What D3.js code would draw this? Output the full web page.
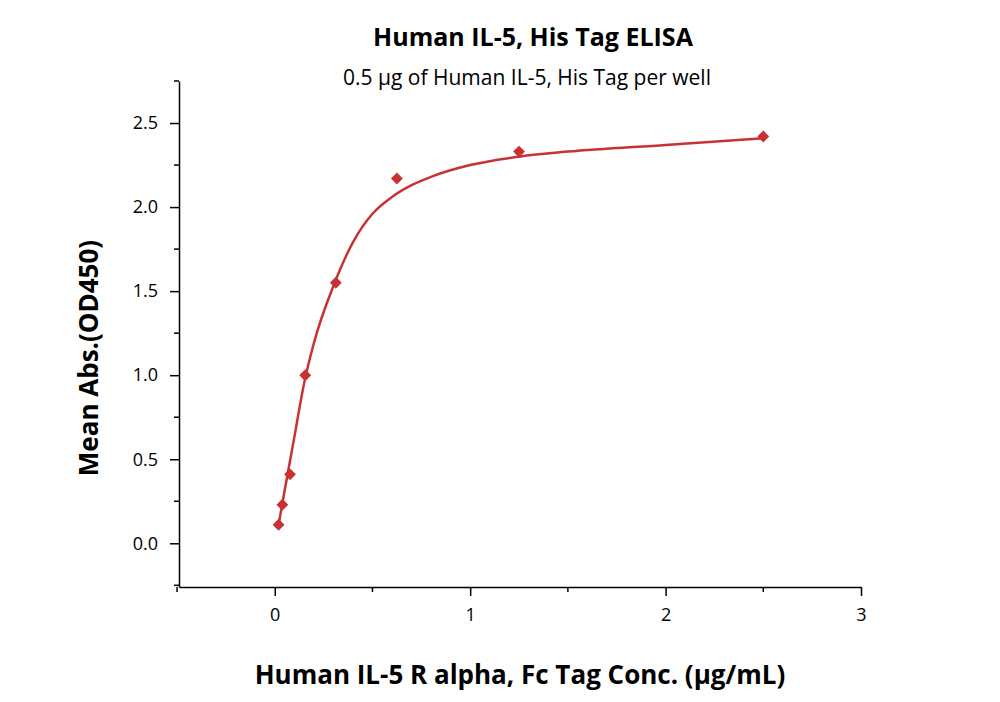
<!DOCTYPE html>
<html><head><meta charset="utf-8">
<script src="https://cdn.jsdelivr.net/npm/d3@7"></script>
<style>body{margin:0;background:#fff;font-family:"Open Sans","Noto Sans",sans-serif}</style>
</head><body><div id="chart"></div>
<script>
// measured points
const conc = [0.0195, 0.039, 0.078, 0.156, 0.3125, 0.625, 1.25, 2.5]
const absMean = [0.11, 0.23, 0.41, 1.00, 1.55, 2.17, 2.33, 2.42]
// fitted curve
const fitX = [0.0195, 0.05, 0.1, 0.15, 0.2, 0.3, 0.4, 0.5, 0.6, 0.7, 0.8, 1.0, 1.25, 1.5, 2.0, 2.5]
const fitY = [0.11, 0.31, 0.63, 0.95, 1.19, 1.53, 1.79, 1.96, 2.06, 2.13, 2.18, 2.25, 2.3, 2.33, 2.37, 2.41]
const xTicks = [0, 1, 2, 3]
const yTicks = [0, 0.5, 1.0, 1.5, 2.0, 2.5]

const red = "#c83232"
const svg = d3.select("#chart").append("svg").attr("width", 1000).attr("height", 702)

const x = d3.scaleLinear().domain([-0.49, 3]).range([179, 861])
const y = d3.scaleLinear().domain([-0.26, 2.75]).range([587, 81])

const xAxis = svg.append("g").attr("transform", "translate(0,587)")
  .call(d3.axisBottom(x).tickValues(xTicks).tickFormat(d3.format("d")).tickSize(9).tickPadding(12).tickSizeOuter(0))
xAxis.append("g").selectAll("line").data([-0.5, 0.5, 1.5, 2.5]).join("line")
  .attr("x1", d => x(d)).attr("x2", d => x(d)).attr("y1", 0).attr("y2", 5).attr("stroke", "#000").attr("stroke-width", 1.5)

const yAxis = svg.append("g").attr("transform", "translate(179,0)")
  .call(d3.axisLeft(y).tickValues(yTicks).tickFormat(d3.format(".1f")).tickSize(9).tickPadding(12).tickSizeOuter(0))
yAxis.append("g").selectAll("line").data([-0.25, 0.25, 0.75, 1.25, 1.75, 2.25, 2.75]).join("line")
  .attr("y1", d => y(d)).attr("y2", d => y(d)).attr("x1", 0).attr("x2", -5).attr("stroke", "#000").attr("stroke-width", 1.5)

svg.selectAll(".domain, .tick line").attr("stroke-width", 1.5)
svg.selectAll(".tick text").style("font-size", "18px").style("font-family", "Open Sans")

const line = d3.line().x(d => x(d[0])).y(d => y(d[1])).curve(d3.curveMonotoneX)
svg.append("path").datum(d3.zip(fitX, fitY)).attr("d", line)
  .attr("fill", "none").attr("stroke", red).attr("stroke-width", 2.5)

svg.selectAll(".pt").data(d3.zip(conc, absMean)).join("path").attr("class", "pt")
  .attr("transform", d => `translate(${x(d[0])},${y(d[1])})`)
  .attr("d", d3.symbol(d3.symbolDiamond2, 90)).attr("fill", red)

svg.append("text").attr("x", 533).attr("y", 46).attr("text-anchor", "middle")
  .style("font-size", "25px").style("font-weight", "bold").text("Human IL-5, His Tag ELISA")
svg.append("text").attr("x", 527).attr("y", 85).attr("text-anchor", "middle")
  .style("font-size", "21px").text("0.5 μg of Human IL-5, His Tag per well")
svg.append("text").attr("x", 520).attr("y", 684).attr("text-anchor", "middle")
  .style("font-size", "26px").style("font-weight", "bold").text("Human IL-5 R alpha, Fc Tag Conc. (μg/mL)")
svg.append("text").attr("transform", "translate(98,358) rotate(-90)").attr("text-anchor", "middle")
  .style("font-size", "26px").style("font-weight", "bold").text("Mean Abs.(OD450)")
</script></body></html>
